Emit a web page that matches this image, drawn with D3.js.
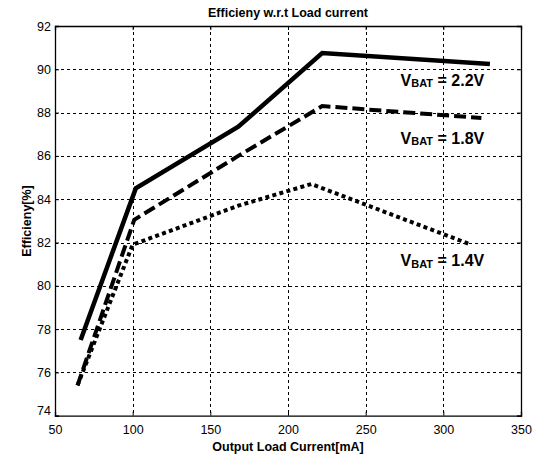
<!doctype html>
<html>
<head>
<meta charset="utf-8">
<script src="https://cdn.jsdelivr.net/npm/d3@7"></script>
<style>
  body { margin: 0; background: #fff; }
  svg { display: block; }
  text { font-family: "Liberation Sans", Arial, sans-serif; fill: #000; }
</style>
</head>
<body>
<svg id="chart" width="542" height="456"></svg>
<script>
// values
const current22 = [66.5, 102, 168, 222, 330];
const eff22     = [77.5, 84.5, 87.35, 90.75, 90.25];
const current18 = [64.5, 101, 168, 222, 324.5];
const eff18     = [75.4, 83.05, 86.0, 88.3, 87.75];
const current14 = [64.5, 100, 168, 215, 316];
const eff14     = [75.4, 81.9, 83.7, 84.7, 81.95];

const xTicks = [50, 100, 150, 200, 250, 300, 350];
const yTicks = [74, 76, 78, 80, 82, 84, 86, 88, 90, 92];

const series = [
  {name: "2.2V", xs: current22, ys: eff22, width: 4.5, dash: null,    labelAt: [272.5, 89.23]},
  {name: "1.8V", xs: current18, ys: eff18, width: 4,   dash: "12,5",  labelAt: [272.5, 86.55]},
  {name: "1.4V", xs: current14, ys: eff14, width: 4,   dash: "4,3.3", labelAt: [272.5, 80.9]}
];

const svg = d3.select("#chart");
const x = d3.scaleLinear().domain([50, 350]).range([55, 521]);
const y = d3.scaleLinear().domain([74, 92]).range([415.7, 26]);

svg.append("rect").attr("width", 542).attr("height", 456).attr("fill", "#fff");

// grid
const grid = svg.append("g")
    .attr("stroke", "#000")
    .attr("stroke-width", 1)
    .attr("stroke-dasharray", "3,3");
grid.selectAll("line.gx")
  .data(xTicks.slice(1, -1))
  .join("line")
    .attr("class", "gx")
    .attr("x1", d => Math.round(x(d)) + 0.5).attr("x2", d => Math.round(x(d)) + 0.5)
    .attr("y1", y(92)).attr("y2", y(74));
grid.selectAll("line.gy")
  .data(yTicks.slice(1, -1))
  .join("line")
    .attr("class", "gy")
    .attr("y1", d => Math.round(y(d)) + 0.5).attr("y2", d => Math.round(y(d)) + 0.5)
    .attr("x1", x(50)).attr("x2", x(350));

// axes (ticks inward on all sides, matlab style)
svg.append("g")
    .attr("transform", `translate(0,${y(74)})`)
    .call(d3.axisBottom(x).tickValues(xTicks).tickSize(-4).tickPadding(9))
    .call(g => g.selectAll("text").attr("font-size", 12.5));
svg.append("g")
    .attr("transform", `translate(${x(50)},0)`)
    .call(d3.axisLeft(y).tickValues(yTicks).tickSize(-4).tickPadding(4))
    .call(g => g.selectAll("text").attr("font-size", 12.5)
      .attr("dy", d => d === 74 ? "-0.1em" : "0.32em"));
svg.append("g")
    .attr("transform", `translate(0,${y(92)})`)
    .call(d3.axisTop(x).tickValues(xTicks).tickSize(-4).tickFormat(""));
svg.append("g")
    .attr("transform", `translate(${x(350)},0)`)
    .call(d3.axisRight(y).tickValues(yTicks).tickSize(-4).tickFormat(""));
svg.selectAll(".domain").attr("stroke", "#000").attr("stroke-width", 1.3);
svg.selectAll(".tick line").attr("stroke", "#000");

// lines
const line = d3.line().x(d => x(d[0])).y(d => y(d[1]));
svg.append("g")
  .selectAll("path")
  .data(series)
  .join("path")
    .attr("d", s => line(s.xs.map((v, i) => [v, s.ys[i]])))
    .attr("fill", "none")
    .attr("stroke", "#000")
    .attr("stroke-width", s => s.width)
    .attr("stroke-dasharray", s => s.dash);

// series labels
const lab = svg.append("g")
  .selectAll("text")
  .data(series)
  .join("text")
    .attr("x", s => x(s.labelAt[0]))
    .attr("y", s => y(s.labelAt[1]))
    .attr("font-weight", "bold")
    .attr("font-size", 16);
lab.append("tspan").text("V");
lab.append("tspan").attr("font-size", 11).attr("dy", 1.5).text("BAT");
lab.append("tspan").attr("dy", -1.5).text(s => " = " + s.name);

// titles
svg.append("text")
    .attr("x", 288).attr("y", 17)
    .attr("text-anchor", "middle")
    .attr("font-weight", "bold").attr("font-size", 12.5)
    .text("Efficieny w.r.t Load current");
svg.append("text")
    .attr("x", 288).attr("y", 451)
    .attr("text-anchor", "middle")
    .attr("font-weight", "bold").attr("font-size", 12.5)
    .text("Output Load Current[mA]");
svg.append("text")
    .attr("transform", "translate(31,221) rotate(-90)")
    .attr("text-anchor", "middle")
    .attr("font-weight", "bold").attr("font-size", 12.5)
    .text("Efficieny[%]");
</script>
</body>
</html>
